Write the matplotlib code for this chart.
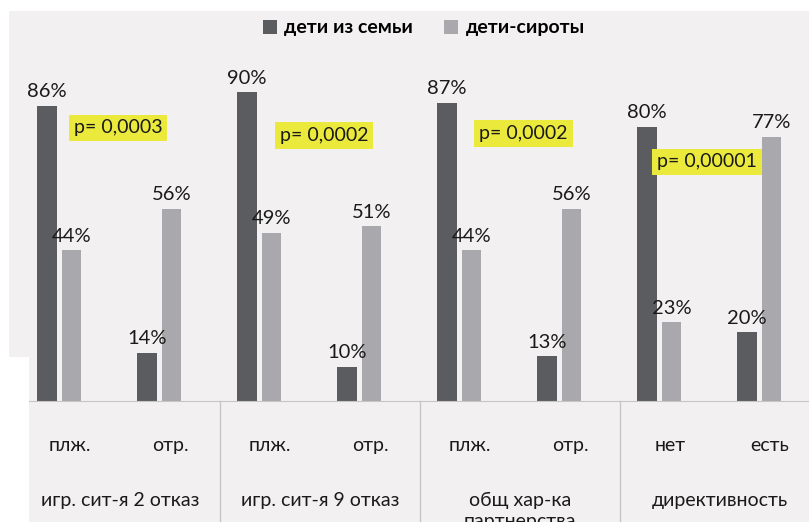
import matplotlib.pyplot as plt
from matplotlib.patches import Polygon
import matplotlib.transforms as mtransforms
import numpy as np

plt.rcParams['font.family'] = ['Lato', 'Open Sans', 'DejaVu Sans']

categories = ['плж.', 'отр.', 'плж.', 'отр.', 'плж.', 'отр.', 'нет', 'есть']
groups = ['игр. сит-я 2 отказ', 'игр. сит-я 9 отказ', 'общ хар-ка\nпартнерства', 'директивность']
family = [86, 14, 90, 10, 87, 13, 80, 20]
orphans = [44, 56, 49, 51, 44, 56, 23, 77]
series_names = ['дети из семьи', 'дети-сироты']
p_values = ['p= 0,0003', 'p= 0,0002', 'p= 0,0002', 'p= 0,00001']

dark = '#5b5c60'
light = '#a9a9ad'
bg = '#f2f0f1'
txt = '#1a1a1a'

fig = plt.figure(figsize=(8.09, 5.22), dpi=100, facecolor='white')

# gray panel of the screenshot (white strip on top/left and a notch bottom-left)
W, H = 809.0, 522.0
pts = [(9, 11), (809, 11), (809, 522), (29, 522), (29, 357), (9, 357)]
fig.patches.append(Polygon([(x / W, 1 - y / H) for x, y in pts], closed=True,
                           transform=fig.transFigure, facecolor=bg, edgecolor='none', zorder=-10))

ax = fig.add_axes([20 / W, 121 / H, 800 / W, 343 / H])
ax.set_facecolor('none')
ax.set_xlim(0, 8)
ax.set_ylim(0, 100)

x = np.arange(len(categories)) + 0.5
w = 0.195
b1 = ax.bar(x - 0.23, family, w, color=dark, label=series_names[0])
b2 = ax.bar(x + 0.015, orphans, w, color=light, label=series_names[1])
ax.bar_label(b1, labels=[f'{v}%' for v in family], padding=4, fontsize=14.5, color=txt)
ax.bar_label(b2, labels=[f'{v}%' for v in orphans], padding=4, fontsize=14.5, color=txt)

for s in ['top', 'left', 'right']:
    ax.spines[s].set_visible(False)
ax.spines['bottom'].set_color('#c6c6c6')
ax.spines['bottom'].set_bounds(0.09, 8)
ax.set_yticks([])
ax.set_xticks(x)
ax.set_xticklabels(categories, fontsize=14, color=txt)
ax.tick_params(axis='x', length=0, pad=26)

trans = mtransforms.blended_transform_factory(ax.transData, ax.transAxes)
for i, g in enumerate(groups):
    ax.text(2 * i + 1, -91 / 343, g, transform=trans, ha='center', va='top',
            fontsize=14, color=txt, linespacing=1.3)
for sep in [2, 4, 6]:
    ax.plot([sep, sep], [0, -0.4], transform=trans, color='#c6c6c6', lw=1, clip_on=False)

p_pos = [(0.98, 79.6), (3.04, 77.3), (5.035, 78.0), (6.87, 69.7)]
for (px, py), p in zip(p_pos, p_values):
    ax.text(px, py, p, ha='center', va='center', fontsize=14, color=txt,
            bbox=dict(boxstyle='square,pad=0.25', facecolor='#ebea3c', edgecolor='none'))

fig.legend(loc='center', bbox_to_anchor=(424 / W, 1 - 28 / H), ncol=2, frameon=False,
           handlelength=0.7, handleheight=0.7, handletextpad=0.4,
           columnspacing=1.6, prop={'weight': 'bold', 'size': 14})

fig.savefig('out.png', dpi=100, facecolor='white')
